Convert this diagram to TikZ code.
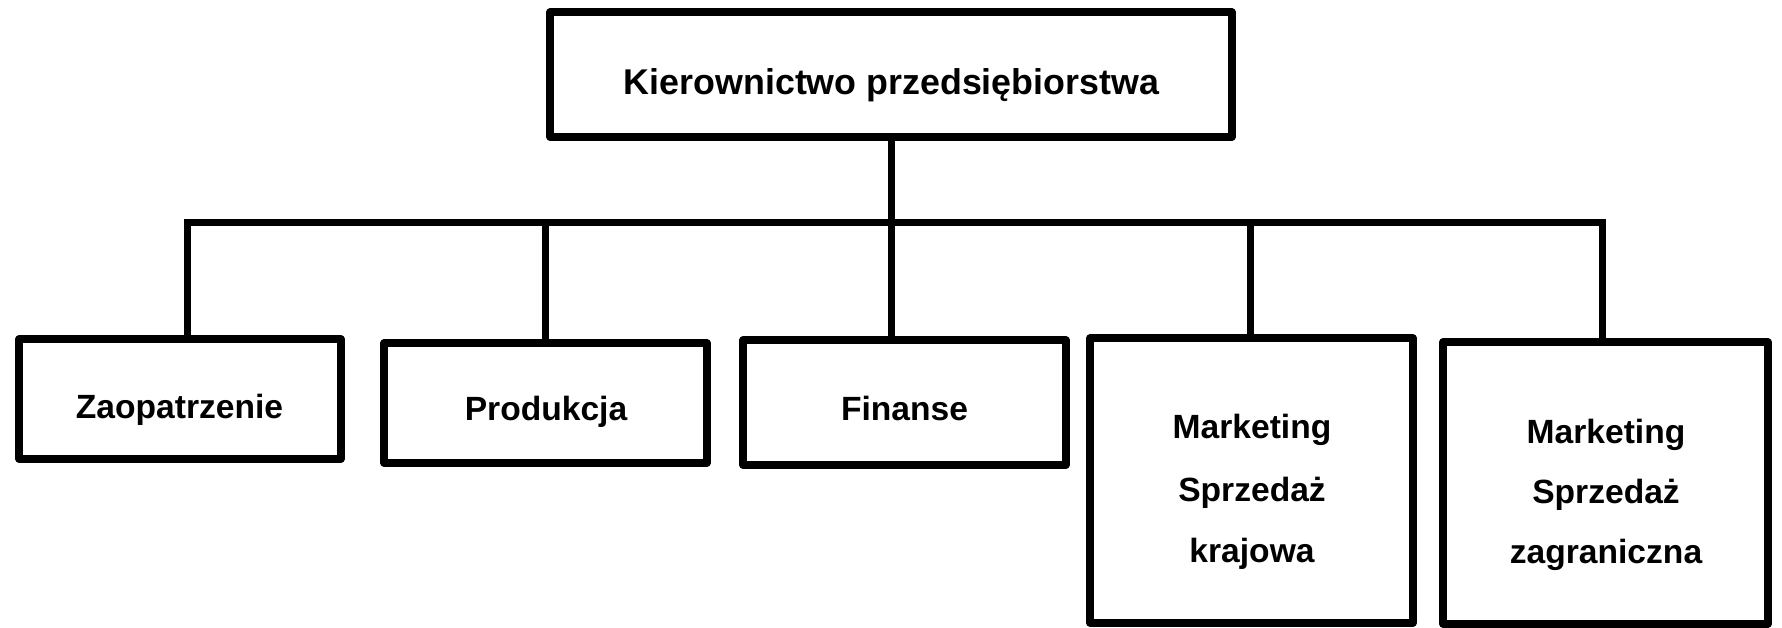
\documentclass[tikz,border=0pt]{standalone}
\usepackage{fontspec}
\setmainfont{Liberation Sans}
\begin{document}
\begin{tikzpicture}[x=1pt,y=-1pt,
  box/.style={draw, line width=7.2pt, line join=round, rectangle, inner sep=0pt},
  conn/.style={draw, line width=7pt},
  lbl/.style={inner sep=0pt, anchor=base, font=\fontsize{33.6}{40}\selectfont\bfseries},
  ttl/.style={lbl, font=\fontsize{35.8}{43}\selectfont\bfseries}]
\useasboundingbox (0,0) rectangle (1782,627);

% boxes
\node[box, minimum width=682pt, minimum height=125pt] (top) at (891,74.5) {};
\node[box, minimum width=322pt, minimum height=120pt] (zao) at (180,399) {};
\node[box, minimum width=323pt, minimum height=120pt] (pro) at (545.5,403) {};
\node[box, minimum width=323pt, minimum height=125pt] (fin) at (904.5,402.5) {};
\node[box, minimum width=323pt, minimum height=285pt] (kra) at (1251.5,480.5) {};
\node[box, minimum width=325pt, minimum height=282pt] (zag) at (1605.5,483) {};

% texts
\node[ttl] (ttop) at (891.5,94) {Kierownictwo przedsiębiorstwa};
\node[lbl] (tzao) at (179.5,418) {Zaopatrzenie};
\node[lbl] (tpro) at (546,420) {Produkcja};
\node[lbl] (tfin) at (904.5,420) {Finanse};
\node[lbl] (tk1) at (1252,438) {Marketing};
\node[lbl] (tk2) at (1252,501) {Sprzedaż};
\node[lbl] (tk3) at (1252,562) {krajowa};
\node[lbl] (tz1) at (1606,443) {Marketing};
\node[lbl] (tz2) at (1606,503) {Sprzedaż};
\node[lbl] (tz3) at (1606,563) {zagraniczna};

% connectors
\coordinate (busL) at (187,222);
\coordinate (busR) at (1602,222);
\coordinate (dP) at (545,222);
\coordinate (dF) at (891,222);
\coordinate (dK) at (1250,222);
\draw[conn, line cap=rect] (busL) -- (busR);
\draw[conn] (top.south) -- (top.south |- busL);
\draw[conn] (busL) -- (busL |- zao.north);
\draw[conn] (dP) -- (dP |- pro.north);
\draw[conn] (dF) -- (dF |- fin.north);
\draw[conn] (dK) -- (dK |- kra.north);
\draw[conn] (busR) -- (busR |- zag.north);
\end{tikzpicture}
\end{document}
